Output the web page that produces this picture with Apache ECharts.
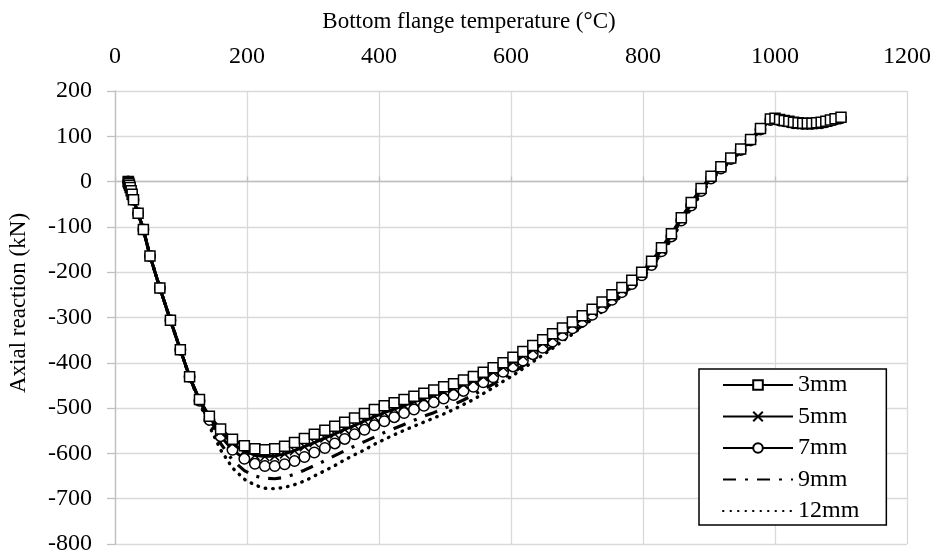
<!DOCTYPE html>
<html>
<head>
<meta charset="utf-8">
<script src="https://cdn.jsdelivr.net/npm/echarts@6/dist/echarts.min.js"></script>
<style>
html,body{margin:0;padding:0;background:#fff;}
#chart{width:938px;height:556px;}
</style>
</head>
<body>
<div id="chart"></div>
<script>
const seriesNames = ['3mm', '5mm', '7mm', '9mm', '12mm'];
const xTicks = [0, 200, 400, 600, 800, 1000, 1200];
const yTicks = [200, 100, 0, -100, -200, -300, -400, -500, -600, -700, -800];

const temps = [20, 20.5, 21, 22, 23, 24.5, 26, 28, 35, 43, 53, 68, 84, 99, 113,
  128, 143, 160, 178, 196, 212, 227, 242, 257, 272, 287, 302, 318, 333, 348, 363, 378, 393,
  408, 423, 438, 453, 468, 483, 498, 513, 528, 543, 558, 573, 588, 603, 618, 633, 648, 663,
  678, 693, 708, 723, 738, 753, 768, 783, 798, 813, 828, 843, 858, 873, 888, 903, 918, 933,
  948, 963, 978, 993,
  1000, 1007, 1014, 1021, 1028, 1035, 1042, 1049, 1056, 1063, 1070, 1077, 1084, 1091, 1100];

const r3 = [0, -2, -4, -8, -13, -20, -28, -40, -70, -106, -164, -235, -306, -371, -431,
  -481, -518, -546, -569, -583, -590, -592, -590, -584, -576, -567, -558, -549, -540, -531, -522, -512, -503,
  -495, -488, -481, -474, -467, -460, -453, -446, -438, -430, -421, -411, -400, -388, -375, -362, -349, -336,
  -323, -310, -296, -282, -266, -250, -234, -218, -200, -176, -146, -115, -80, -46, -15, 12, 33, 52,
  72, 93, 117, 138,
  140, 137, 135, 133, 131, 130, 129, 129, 129, 130, 131, 133, 136, 139, 142];

const r5 = [0, -2, -4, -8, -13, -20, -28, -40, -70, -106, -164, -235, -306, -371, -431,
  -482, -521, -552, -578, -595, -604, -607, -606, -601, -594, -585, -576, -566, -557, -547, -538, -528, -519,
  -510, -502, -494, -486, -479, -471, -464, -456, -448, -440, -431, -421, -410, -398, -385, -371, -357, -344,
  -330, -316, -302, -287, -272, -256, -239, -222, -204, -180, -151, -118, -83, -50, -18, 9, 31, 51,
  71, 92, 116, 137,
  139, 136, 134, 132, 130, 129, 128, 128, 128, 129, 130, 132, 135, 138, 141];

const r7 = [0, -2, -4, -8, -13, -20, -28, -40, -70, -106, -164, -235, -306, -371, -431,
  -484, -526, -562, -592, -612, -623, -628, -628, -624, -617, -608, -598, -588, -578, -568, -558, -548, -538,
  -529, -520, -511, -503, -495, -487, -479, -471, -462, -453, -443, -432, -420, -408, -395, -381, -367, -353,
  -339, -324, -309, -294, -278, -261, -244, -226, -207, -184, -154, -121, -86, -53, -21, 7, 29, 50,
  70, 91, 115, 136,
  138, 135, 133, 131, 129, 128, 127, 127, 127, 128, 129, 131, 134, 137, 140];

const r9 = [0, -2, -4, -8, -13, -20, -28, -40, -70, -106, -164, -235, -306, -371, -431,
  -486, -532, -578, -615, -638, -650, -655, -656, -653, -646, -637, -627, -616, -605, -594, -584, -574, -564,
  -554, -545, -536, -527, -518, -510, -501, -492, -482, -471, -459, -447, -434, -421, -407, -393, -379, -364,
  -349, -334, -318, -302, -285, -268, -250, -231, -211, -188, -158, -125, -90, -57, -25, 4, 27, 48,
  68, 90, 114, 134,
  137, 134, 132, 130, 128, 127, 126, 126, 126, 127, 128, 130, 133, 136, 139];

const r12 = [0, -2, -4, -8, -13, -20, -28, -40, -70, -106, -164, -235, -306, -371, -431,
  -488, -540, -592, -632, -657, -670, -677, -678, -675, -669, -661, -650, -638, -627, -614, -603, -592, -580,
  -569, -559, -549, -540, -531, -522, -513, -503, -492, -481, -468, -455, -441, -428, -413, -398, -383, -368,
  -352, -337, -320, -304, -287, -270, -252, -233, -213, -190, -160, -127, -92, -59, -27, 2, 25, 46,
  66, 88, 112, 133,
  136, 133, 131, 129, 127, 126, 125, 125, 125, 126, 127, 129, 132, 135, 138];

const FONT = '"Liberation Serif", "Times New Roman", serif';
const FS = 24;

function pairs(vals) { return temps.map((t, i) => [t, vals[i]]); }

const chart = echarts.init(document.getElementById('chart'), null, {renderer: 'canvas'});

const lineBase = {type: 'line', xAxisIndex: 0, yAxisIndex: 0, animation: false};

const option = {
  backgroundColor: '#ffffff',
  animation: false,
  textStyle: {fontFamily: FONT, color: '#000'},
  title: {
    text: 'Bottom flange temperature (°C)',
    left: 'center', top: 5, padding: 5,
    textStyle: {fontFamily: FONT, fontSize: 23, fontWeight: 'normal', color: '#000'}
  },
  graphic: [{
    type: 'text',
    x: 19, y: 303,
    rotation: Math.PI / 2,
    style: {
      text: 'Axial reaction (kN)',
      font: '23px ' + FONT,
      fill: '#000',
      align: 'center',
      verticalAlign: 'middle'
    }
  }],
  grid: {left: 115, right: 31, top: 91, bottom: 12, containLabel: false},
  legend: {
    orient: 'vertical',
    left: 699, top: 369,
    padding: [4, 27, 2, 23],
    itemGap: 7.5,
    itemWidth: 70,
    itemHeight: 12,
    borderColor: '#000',
    borderWidth: 1.5,
    backgroundColor: '#fff',
    z: 20,
    textStyle: {fontFamily: FONT, fontSize: FS, color: '#000'},
    data: seriesNames
  },
  xAxis: [{
    type: 'value',
    position: 'top',
    min: xTicks[0], max: xTicks[xTicks.length - 1], interval: 200,
    axisLine: {show: false, onZero: false},
    axisTick: {show: false},
    axisLabel: {fontFamily: FONT, fontSize: FS, color: '#000', margin: 22, formatter: v => String(v)},
    splitLine: {show: true, lineStyle: {color: '#d9d9d9', width: 1.3}}
  }, {
    type: 'value',
    position: 'bottom',
    min: xTicks[0], max: xTicks[xTicks.length - 1], interval: 200,
    axisLine: {show: true, onZero: true, lineStyle: {color: '#bfbfbf', width: 1.3}},
    axisTick: {show: true, inside: true, length: 5, lineStyle: {color: '#bfbfbf', width: 1.3}},
    axisLabel: {show: false},
    splitLine: {show: false}
  }],
  yAxis: {
    type: 'value',
    min: yTicks[yTicks.length - 1], max: yTicks[0], interval: 100,
    axisLine: {show: true, onZero: false, lineStyle: {color: '#bfbfbf', width: 1.3}},
    axisTick: {show: true, length: 8, lineStyle: {color: '#bfbfbf', width: 1.3}},
    axisLabel: {fontFamily: FONT, fontSize: FS, color: '#000', margin: 23},
    splitLine: {show: true, lineStyle: {color: '#d9d9d9', width: 1.3}}
  },
  series: [
    Object.assign({}, lineBase, {
      name: seriesNames[0], data: pairs(r3), z: 7,
      symbol: 'rect', symbolSize: 10,
      itemStyle: {color: '#fff', borderColor: '#000', borderWidth: 1.5},
      lineStyle: {color: '#000', width: 3}
    }),
    Object.assign({}, lineBase, {
      name: seriesNames[1], data: pairs(r5), z: 6,
      symbol: 'path://M0,0L10,10M10,0L0,10', symbolSize: 9,
      itemStyle: {color: 'none', borderColor: '#000', borderWidth: 1.5},
      lineStyle: {color: '#000', width: 3}
    }),
    Object.assign({}, lineBase, {
      name: seriesNames[2], data: pairs(r7), z: 5,
      symbol: 'circle', symbolSize: 10.5,
      itemStyle: {color: '#fff', borderColor: '#000', borderWidth: 1.5},
      lineStyle: {color: '#000', width: 3}
    }),
    Object.assign({}, lineBase, {
      name: seriesNames[3], data: pairs(r9), z: 4,
      symbol: 'circle', symbolSize: 0,
      itemStyle: {color: 'rgba(0,0,0,0)', borderWidth: 0},
      lineStyle: {color: '#000', width: 3.2, type: [13, 9, 3, 9]}
    }),
    Object.assign({}, lineBase, {
      name: seriesNames[4], data: pairs(r12), z: 3,
      symbol: 'circle', symbolSize: 0,
      itemStyle: {color: 'rgba(0,0,0,0)', borderWidth: 0},
      lineStyle: {color: '#000', width: 3.4, type: [0.5, 7], cap: 'round'}
    })
  ]
};
chart.setOption(option);
</script>
</body>
</html>
